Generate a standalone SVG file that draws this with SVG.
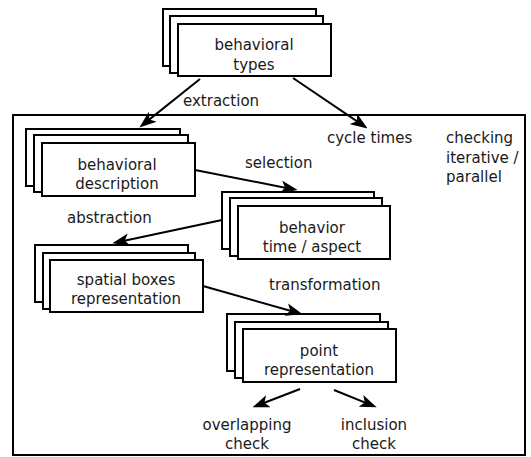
<svg xmlns="http://www.w3.org/2000/svg" width="531" height="457" viewBox="0 0 531 457">
  <style>
    .card { fill: #ffffff; stroke: #000000; stroke-width: 2; }
    .frame { fill: none; stroke: #000000; stroke-width: 2; }
    .edge { fill: none; stroke: #000000; stroke-width: 2; marker-end: url(#arrow); }
    text { font-family: "DejaVu Sans", "Liberation Sans", sans-serif; font-size: 15px; fill: #1a1a1a; }
    .c { text-anchor: middle; }
  </style>
  <defs>
    <marker id="arrow" markerUnits="userSpaceOnUse" markerWidth="17" markerHeight="13" viewBox="0 0 16 12" refX="12.5" refY="6" orient="auto">
      <path d="M0,0 L16,6 L0,12 L4,6 z" fill="#000000"/>
    </marker>
  </defs>

  <rect class="frame" x="13" y="115" width="512" height="340"/>

  <g id="behavioral-types">
    <rect class="card" x="163" y="9" width="153" height="57"/>
    <rect class="card" x="170" y="16" width="153" height="57"/>
    <rect class="card" x="178" y="24" width="153" height="52"/>
    <text class="c" x="254" y="50">behavioral</text>
    <text class="c" x="254" y="70">types</text>
  </g>

  <g id="behavioral-description">
    <rect class="card" x="26" y="129" width="154" height="57"/>
    <rect class="card" x="34" y="135" width="154" height="57"/>
    <rect class="card" x="42" y="143" width="153" height="53"/>
    <text class="c" x="117" y="170">behavioral</text>
    <text class="c" x="117" y="189">description</text>
  </g>

  <g id="behavior-time-aspect">
    <rect class="card" x="222" y="192" width="152" height="57"/>
    <rect class="card" x="230" y="198" width="152" height="58"/>
    <rect class="card" x="238" y="206" width="152" height="53"/>
    <text class="c" x="312" y="233">behavior</text>
    <text class="c" x="312" y="252">time / aspect</text>
  </g>

  <g id="spatial-boxes">
    <rect class="card" x="35" y="245" width="153" height="57"/>
    <rect class="card" x="43" y="253" width="152" height="56"/>
    <rect class="card" x="50" y="260" width="153" height="52"/>
    <text class="c" x="126" y="285">spatial boxes</text>
    <text class="c" x="126" y="304">representation</text>
  </g>

  <g id="point-representation">
    <rect class="card" x="227" y="314" width="153" height="57"/>
    <rect class="card" x="235" y="322" width="153" height="56"/>
    <rect class="card" x="243" y="329" width="153" height="53"/>
    <text class="c" x="319" y="356">point</text>
    <text class="c" x="319" y="375">representation</text>
  </g>

  <g id="cycle-times">
    <text x="327" y="143">cycle times</text>
  </g>

  <g id="checking-note">
    <text x="446" y="143">checking</text>
    <text x="446" y="163">iterative /</text>
    <text x="446" y="182">parallel</text>
  </g>

  <g id="overlapping-check">
    <text class="c" x="247" y="430">overlapping</text>
    <text class="c" x="247" y="449">check</text>
  </g>

  <g id="inclusion-check">
    <text class="c" x="374" y="430">inclusion</text>
    <text class="c" x="374" y="449">check</text>
  </g>

  <g id="connectors">
    <line class="edge" x1="200" y1="79" x2="142.3" y2="125.1"/>
    <line class="edge" x1="293" y1="78" x2="364.5" y2="126.3"/>
    <line class="edge" x1="195" y1="170" x2="294" y2="189.4"/>
    <line class="edge" x1="222" y1="220" x2="116" y2="242.4"/>
    <line class="edge" x1="203" y1="286" x2="299.1" y2="313.2"/>
    <line class="edge" x1="300" y1="389" x2="256" y2="406"/>
    <line class="edge" x1="334" y1="390" x2="373.2" y2="405.9"/>
    <text x="183" y="106">extraction</text>
    <text x="245" y="168">selection</text>
    <text x="67" y="223">abstraction</text>
    <text x="269" y="290">transformation</text>
  </g>
</svg>
